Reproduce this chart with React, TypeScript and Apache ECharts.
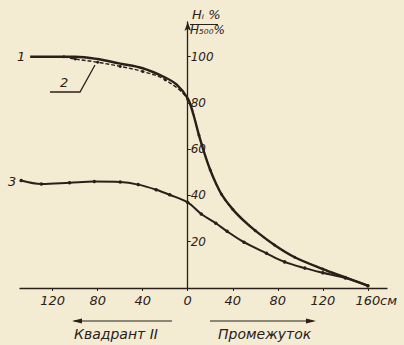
import React, { useEffect, useRef } from "react";
import * as echarts from "echarts";

// Curve 1 (solid)
const x1 = [-140, -100, -80, -60, -40, -20, -10, 0, 5, 10, 15, 20, 25, 30, 40, 50, 60, 77, 95, 120, 140, 160];
const y1 = [100, 100, 99, 97, 95, 91, 88, 82, 75, 66, 58, 51, 45.3, 40.5, 34, 29, 24.8, 18.6, 13.3, 8.2, 4.6, 1];
// Curve 2 (dashed, with points)
const x2 = [-110, -100, -80, -60, -40, -20, 0, 10, 20, 30, 40, 60, 77, 95, 120, 140, 160];
const y2 = [100, 99, 97.6, 95.8, 93.6, 90, 81.5, 66, 51, 40.5, 34, 24.8, 18.6, 13.3, 8.2, 4.6, 1];
// Curve 3
const x3 = [-148, -130, -105, -83, -60, -44, -28, -16, 0, 12, 25, 35, 50, 70, 86, 104, 120, 140, 160];
const y3 = [46.5, 45, 45.5, 46, 45.8, 44.7, 42.5, 40.3, 37, 32, 28, 24.5, 19.8, 15, 11.3, 8.6, 6.6, 4.3, 1];

const xTicks = [-120, -80, -40, 0, 40, 80, 120, 160];
const yTicks = [20, 40, 60, 80, 100];

const INK = "#2b2019";
const BG = "#f3ecd3";
const FONT = "DejaVu Sans";

const X_MIN = -149;
const X_MAX = 177;
const GRID_LEFT = 20;
const GRID_RIGHT = 17;
const W = 404;

const pairs = (xs: number[], ys: number[]) => xs.map((x, i) => [x, ys[i]]);

export default function App() {
  const ref = useRef<HTMLDivElement>(null);
  useEffect(() => {
    if (!ref.current) return;
    const chart = echarts.init(ref.current, undefined, { renderer: "svg" });
    const gridW = W - GRID_LEFT - GRID_RIGHT;
    const yAxisOffset = -((0 - X_MIN) / (X_MAX - X_MIN)) * gridW;
    const txt = (text: string, x: number, y: number, size: number, extra: any = {}) => ({
      type: "text",
      x,
      y,
      style: { text, fill: INK, font: `italic ${size}px "${FONT}"`, ...extra },
    });
    chart.setOption({
      animation: false,
      backgroundColor: BG,
      grid: { left: GRID_LEFT, right: GRID_RIGHT, top: 22, bottom: 57, containLabel: false },
      xAxis: {
        type: "value",
        min: X_MIN,
        max: X_MAX,
        splitLine: { show: false },
        axisLine: { onZero: false, lineStyle: { color: INK, width: 1.3 } },
        axisTick: { show: true, length: 3, customValues: xTicks, lineStyle: { color: INK } },
        axisLabel: {
          customValues: xTicks,
          formatter: (v: number) => String(Math.abs(v)),
          color: INK,
          fontFamily: FONT,
          fontStyle: "italic",
          fontSize: 13,
          margin: 6,
        },
      },
      yAxis: {
        type: "value",
        min: 0,
        max: 115,
        position: "left",
        offset: yAxisOffset,
        splitLine: { show: false },
        axisLine: {
          onZero: false,
          symbol: ["none", "arrow"],
          symbolSize: [5, 9],
          lineStyle: { color: INK, width: 1.3 },
        },
        axisTick: { show: true, inside: true, length: 3, customValues: yTicks, lineStyle: { color: INK } },
        axisLabel: {
          inside: true,
          customValues: yTicks,
          color: INK,
          fontFamily: FONT,
          fontStyle: "italic",
          fontSize: 12,
          margin: 3,
        },
      },
      series: [
        {
          type: "line",
          data: pairs(x1, y1),
          smooth: 0.35,
          showSymbol: false,
          lineStyle: { color: INK, width: 2.4 },
          z: 3,
        },
        {
          type: "line",
          data: pairs(x2, y2),
          smooth: 0.35,
          symbol: "circle",
          symbolSize: 3,
          itemStyle: { color: INK },
          lineStyle: { color: INK, width: 1.4, type: [4, 2] },
          z: 4,
        },
        {
          type: "line",
          data: pairs(x3, y3),
          smooth: 0.35,
          symbol: "circle",
          symbolSize: 3.5,
          itemStyle: { color: INK },
          lineStyle: { color: INK, width: 2 },
          z: 3,
        },
      ],
      graphic: [
        txt("1", 17, 50, 13),
        txt("2", 60, 76, 13),
        txt("3", 8, 175, 13),
        { type: "polyline", shape: { points: [[50, 92], [80, 92], [95, 65]] }, style: { stroke: INK, lineWidth: 1.3, fill: "none" } },
        txt("Hᵢ %", 192, 8, 13),
        { type: "line", shape: { x1: 190, y1: 24.5, x2: 218, y2: 24.5 }, style: { stroke: INK, lineWidth: 1 } },
        txt("H₅₀₀%", 190, 24, 12),
        txt("см", 380, 294, 13),
        { type: "line", shape: { x1: 74, y1: 321, x2: 172, y2: 321 }, style: { stroke: INK, lineWidth: 1.2 } },
        { type: "polygon", shape: { points: [[72, 321], [82, 318.5], [82, 323.5]] }, style: { fill: INK } },
        { type: "line", shape: { x1: 210, y1: 321, x2: 313, y2: 321 }, style: { stroke: INK, lineWidth: 1.2 } },
        { type: "polygon", shape: { points: [[316, 321], [306, 318.5], [306, 323.5]] }, style: { fill: INK } },
        txt("Квадрант II", 74, 327, 14),
        txt("Промежуток", 218, 327, 14),
      ],
    });
    return () => chart.dispose();
  }, []);
  return (
    <div
      ref={ref}
      style={{ position: "fixed", left: 0, top: 0, width: 404, height: 345, background: BG }}
    />
  );
}
